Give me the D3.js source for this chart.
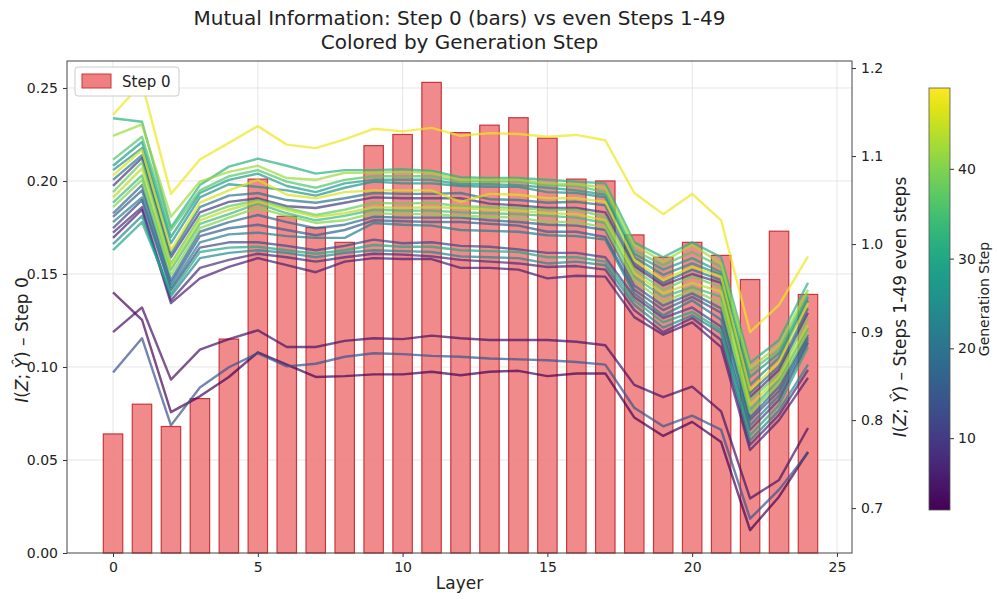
<!DOCTYPE html>
<html>
<head>
<meta charset="utf-8">
<script src="https://cdn.jsdelivr.net/npm/d3@7"></script>
<style>
  body { margin: 0; background: #fff; }
  text { font-family: "DejaVu Sans", sans-serif; fill: #222; }
</style>
</head>
<body>
<svg id="chart" width="997" height="599"></svg>
<script>
// layers and Step 0 bars (left axis)
const layers = [0, 1, 2, 3, 4, 5, 6, 7, 8, 9, 10, 11, 12, 13, 14, 15, 16, 17, 18, 19, 20, 21, 22, 23, 24];
const step0 = [0.064, 0.080, 0.068, 0.083, 0.115, 0.201, 0.181, 0.175, 0.167, 0.219, 0.225, 0.253, 0.226, 0.230, 0.234, 0.223, 0.201, 0.200, 0.171, 0.159, 0.167, 0.160, 0.147, 0.173, 0.139];

// even generation steps (right axis)
const step2  = [0.945, 0.914, 0.809, 0.827, 0.849, 0.877, 0.863, 0.849, 0.850, 0.852, 0.852, 0.855, 0.851, 0.855, 0.856, 0.850, 0.853, 0.853, 0.803, 0.782, 0.798, 0.775, 0.675, 0.713, 0.764];
const step4  = [0.900, 0.928, 0.846, 0.880, 0.892, 0.902, 0.883, 0.883, 0.890, 0.893, 0.892, 0.896, 0.893, 0.891, 0.891, 0.891, 0.889, 0.885, 0.840, 0.826, 0.838, 0.810, 0.711, 0.732, 0.791];
const step6  = [1.007, 1.039, 0.933, 0.961, 0.974, 0.984, 0.976, 0.968, 0.980, 0.984, 0.983, 0.983, 0.973, 0.973, 0.971, 0.961, 0.964, 0.963, 0.917, 0.897, 0.911, 0.883, 0.766, 0.800, 0.848];
const step8  = [1.013, 1.042, 0.936, 0.973, 0.982, 0.989, 0.985, 0.980, 0.985, 0.989, 0.988, 0.986, 0.982, 0.980, 0.978, 0.974, 0.975, 0.971, 0.925, 0.900, 0.916, 0.891, 0.772, 0.806, 0.857];
const step10 = [1.066, 1.098, 0.985, 1.036, 1.048, 1.052, 1.043, 1.041, 1.047, 1.053, 1.052, 1.052, 1.052, 1.046, 1.044, 1.041, 1.041, 1.036, 0.975, 0.953, 0.966, 0.956, 0.826, 0.857, 0.922];
const step12 = [1.018, 1.050, 0.948, 0.996, 1.002, 1.002, 0.998, 0.993, 0.998, 1.005, 1.001, 1.002, 0.998, 0.997, 0.994, 0.990, 0.990, 0.985, 0.940, 0.916, 0.928, 0.906, 0.789, 0.823, 0.888];
const step14 = [0.854, 0.893, 0.794, 0.837, 0.860, 0.876, 0.861, 0.864, 0.872, 0.876, 0.875, 0.873, 0.872, 0.870, 0.869, 0.868, 0.866, 0.863, 0.814, 0.793, 0.805, 0.789, 0.688, 0.721, 0.763];
const step16 = [1.031, 1.061, 0.955, 1.009, 1.018, 1.022, 1.016, 1.010, 1.016, 1.027, 1.026, 1.025, 1.025, 1.023, 1.021, 1.014, 1.014, 1.008, 0.948, 0.925, 0.940, 0.922, 0.800, 0.833, 0.894];
const step18 = [1.035, 1.067, 0.959, 1.014, 1.025, 1.033, 1.025, 1.018, 1.022, 1.031, 1.030, 1.030, 1.030, 1.027, 1.025, 1.022, 1.021, 1.016, 0.953, 0.930, 0.944, 0.927, 0.803, 0.838, 0.897];
const step20 = [1.073, 1.101, 0.989, 1.042, 1.055, 1.058, 1.050, 1.047, 1.052, 1.058, 1.057, 1.057, 1.058, 1.051, 1.050, 1.047, 1.048, 1.044, 0.978, 0.956, 0.971, 0.959, 0.831, 0.861, 0.927];
const step22 = [1.025, 1.053, 0.951, 1.002, 1.011, 1.013, 1.009, 1.007, 1.007, 1.024, 1.022, 1.021, 1.016, 1.015, 1.014, 1.010, 1.009, 1.005, 0.944, 0.919, 0.936, 0.914, 0.794, 0.828, 0.891];
const step24 = [1.000, 1.032, 0.941, 0.984, 0.990, 0.993, 0.990, 0.985, 0.990, 0.993, 0.992, 0.991, 0.986, 0.985, 0.984, 0.978, 0.980, 0.976, 0.931, 0.905, 0.919, 0.899, 0.777, 0.811, 0.863];
const step26 = [1.084, 1.109, 1.001, 1.053, 1.068, 1.065, 1.061, 1.055, 1.064, 1.071, 1.069, 1.069, 1.066, 1.065, 1.065, 1.059, 1.058, 1.053, 0.985, 0.965, 0.978, 0.965, 0.840, 0.871, 0.936];
const step28 = [1.089, 1.116, 1.008, 1.058, 1.073, 1.080, 1.066, 1.059, 1.069, 1.073, 1.073, 1.073, 1.068, 1.068, 1.067, 1.064, 1.061, 1.056, 0.989, 0.971, 0.984, 0.968, 0.849, 0.876, 0.940];
const step30 = [0.993, 1.025, 0.944, 0.991, 0.996, 0.997, 0.993, 0.989, 0.993, 0.999, 0.997, 0.997, 0.993, 0.992, 0.991, 0.985, 0.985, 0.980, 0.936, 0.911, 0.923, 0.902, 0.783, 0.817, 0.883];
const step32 = [1.143, 1.139, 1.019, 1.067, 1.088, 1.097, 1.089, 1.080, 1.084, 1.084, 1.085, 1.083, 1.076, 1.075, 1.075, 1.073, 1.071, 1.069, 1.002, 0.985, 1.002, 0.985, 0.865, 0.891, 0.956];
const step34 = [1.047, 1.078, 0.971, 1.023, 1.034, 1.046, 1.035, 1.027, 1.032, 1.039, 1.038, 1.038, 1.036, 1.035, 1.034, 1.032, 1.030, 1.024, 0.963, 0.940, 0.951, 0.940, 0.811, 0.846, 0.905];
const step36 = [1.096, 1.122, 1.016, 1.061, 1.077, 1.084, 1.071, 1.064, 1.073, 1.077, 1.077, 1.077, 1.071, 1.071, 1.071, 1.067, 1.066, 1.059, 0.993, 0.976, 0.991, 0.974, 0.855, 0.880, 0.944];
const step38 = [1.059, 1.093, 0.978, 1.031, 1.043, 1.050, 1.041, 1.033, 1.039, 1.047, 1.046, 1.047, 1.043, 1.042, 1.041, 1.039, 1.039, 1.031, 0.971, 0.948, 0.963, 0.951, 0.823, 0.852, 0.916];
const step40 = [1.042, 1.073, 0.965, 1.018, 1.030, 1.041, 1.032, 1.024, 1.027, 1.035, 1.034, 1.034, 1.032, 1.031, 1.030, 1.025, 1.025, 1.019, 0.959, 0.934, 0.948, 0.933, 0.808, 0.842, 0.900];
const step42 = [1.123, 1.136, 1.031, 1.071, 1.082, 1.089, 1.075, 1.073, 1.081, 1.081, 1.082, 1.081, 1.073, 1.073, 1.073, 1.069, 1.068, 1.064, 0.999, 0.980, 0.999, 0.978, 0.859, 0.885, 0.948];
const step44 = [1.053, 1.086, 0.974, 1.027, 1.039, 1.048, 1.039, 1.031, 1.035, 1.042, 1.041, 1.042, 1.041, 1.039, 1.038, 1.035, 1.034, 1.027, 0.967, 0.944, 0.956, 0.946, 0.817, 0.849, 0.908];
const step46 = [1.078, 1.107, 0.993, 1.047, 1.061, 1.073, 1.056, 1.052, 1.059, 1.061, 1.061, 1.061, 1.048, 1.057, 1.056, 1.052, 1.052, 1.048, 0.982, 0.959, 0.974, 0.963, 0.834, 0.866, 0.933];
const step48 = [1.147, 1.183, 1.057, 1.096, 1.115, 1.134, 1.113, 1.109, 1.119, 1.131, 1.128, 1.132, 1.123, 1.126, 1.125, 1.122, 1.124, 1.118, 1.058, 1.034, 1.057, 1.027, 0.900, 0.931, 0.986];

const genSteps = [2, 4, 6, 8, 10, 12, 14, 16, 18, 20, 22, 24, 26, 28, 30, 32, 34, 36, 38, 40, 42, 44, 46, 48];
const genValues = [step2, step4, step6, step8, step10, step12, step14, step16, step18, step20, step22, step24,
  step26, step28, step30, step32, step34, step36, step38, step40, step42, step44, step46, step48];

const xTicks = [0, 5, 10, 15, 20, 25];
const leftTicks = [0, 0.05, 0.10, 0.15, 0.20, 0.25];
const rightTicks = [0.7, 0.8, 0.9, 1.0, 1.1, 1.2];
const cbarTicks = [10, 20, 30, 40];

const svg = d3.select("#chart");
const L = 67, R = 852, T = 61, B = 553;

const x = d3.scaleLinear().domain([-1.59, 25.52]).range([L, R]);
const yL = d3.scaleLinear().domain([0, 0.2645]).range([B, T]);
const yR = d3.scaleLinear().domain([0.649, 1.208]).range([B, T]);
const color = d3.scaleSequential(d3.interpolateViridis).domain([2, 49]);

// grid
const grid = svg.append("g").attr("stroke", "#e6e6e6").attr("stroke-width", 1);
grid.selectAll("line.gx").data(xTicks).join("line")
  .attr("x1", d => x(d)).attr("x2", d => x(d)).attr("y1", T).attr("y2", B);
grid.selectAll("line.gy").data(leftTicks.slice(1)).join("line")
  .attr("x1", L).attr("x2", R).attr("y1", d => yL(d)).attr("y2", d => yL(d));

// bars
const barW = x(0.67) - x(0);
svg.append("g").selectAll("rect").data(layers).join("rect")
  .attr("x", d => x(d) - barW / 2)
  .attr("y", (d, i) => yL(step0[i]))
  .attr("width", barW)
  .attr("height", (d, i) => B - yL(step0[i]))
  .attr("fill", "#f08080")
  .attr("fill-opacity", 0.92)
  .attr("stroke", "#c8363c")
  .attr("stroke-width", 1.2);

// lines
const line = d3.line().x((d, i) => x(layers[i])).y(d => yR(d));
svg.append("g").selectAll("path").data(genValues).join("path")
  .attr("d", line)
  .attr("fill", "none")
  .attr("stroke", (d, i) => color(genSteps[i]))
  .attr("stroke-opacity", 0.7)
  .attr("stroke-width", 2.4)
  .attr("stroke-linejoin", "round");

// axes
const ax = svg.append("g").attr("transform", `translate(0,${B})`)
  .call(d3.axisBottom(x).tickValues(xTicks).tickSize(4).tickPadding(5));
const ayL = svg.append("g").attr("transform", `translate(${L},0)`)
  .call(d3.axisLeft(yL).tickValues(leftTicks).tickFormat(d3.format(".2f")).tickSize(4).tickPadding(5));
const ayR = svg.append("g").attr("transform", `translate(${R},0)`)
  .call(d3.axisRight(yR).tickValues(rightTicks).tickFormat(d3.format(".1f")).tickSize(4).tickPadding(5));
[ax, ayL, ayR].forEach(g => {
  g.select(".domain").remove();
  g.selectAll("line").attr("stroke", "#333");
  g.selectAll("text").attr("font-size", 14).attr("font-family", "DejaVu Sans").attr("fill", "#222");
});

// frame
svg.append("rect").attr("x", L).attr("y", T).attr("width", R - L).attr("height", B - T)
  .attr("fill", "none").attr("stroke", "#444").attr("stroke-width", 1);

// titles
svg.append("text").attr("x", (L + R) / 2).attr("y", 25).attr("text-anchor", "middle")
  .attr("font-size", 20).text("Mutual Information: Step 0 (bars) vs even Steps 1-49");
svg.append("text").attr("x", (L + R) / 2).attr("y", 49).attr("text-anchor", "middle")
  .attr("font-size", 20).text("Colored by Generation Step");
svg.append("text").attr("x", (L + R) / 2).attr("y", 589).attr("text-anchor", "middle")
  .attr("font-size", 17).text("Layer");

function miLabel(sel, suffix) {
  sel.append("tspan").attr("font-style", "italic").text("I");
  sel.append("tspan").text("(");
  sel.append("tspan").attr("font-style", "italic").text("Z");
  sel.append("tspan").text("; ");
  sel.append("tspan").attr("font-style", "italic").text("Ŷ");
  sel.append("tspan").text(") – " + suffix);
}
svg.append("text").attr("transform", `translate(28,340) rotate(-90)`)
  .attr("text-anchor", "middle").attr("font-size", 17).call(miLabel, "Step 0");
svg.append("text").attr("transform", `translate(906,${(T + B) / 2}) rotate(-90)`)
  .attr("text-anchor", "middle").attr("font-size", 17).call(miLabel, "Steps 1-49 even steps");

// legend
const lg = svg.append("g");
lg.append("rect").attr("x", 75).attr("y", 67).attr("width", 104).attr("height", 29).attr("rx", 3)
  .attr("fill", "#fff").attr("fill-opacity", 0.85).attr("stroke", "#ccc");
lg.append("rect").attr("x", 82).attr("y", 74).attr("width", 29).attr("height", 14)
  .attr("fill", "#f08080").attr("stroke", "#c8363c");
lg.append("text").attr("x", 122).attr("y", 87).attr("font-size", 15).text("Step 0");

// colorbar
const cbX = 929, cbW = 21, cbT = 88, cbB = 510;
const cy = d3.scaleLinear().domain([2, 49]).range([cbB, cbT]);
const grad = svg.append("defs").append("linearGradient").attr("id", "vir")
  .attr("x1", 0).attr("y1", 1).attr("x2", 0).attr("y2", 0);
grad.selectAll("stop").data(d3.range(0, 1.0001, 0.05)).join("stop")
  .attr("offset", d => d).attr("stop-color", d => d3.interpolateViridis(d));
svg.append("rect").attr("x", cbX).attr("y", cbT).attr("width", cbW).attr("height", cbB - cbT)
  .attr("fill", "url(#vir)").attr("stroke", "#555").attr("stroke-width", 0.8);
const cax = svg.append("g").attr("transform", `translate(${cbX + cbW},0)`)
  .call(d3.axisRight(cy).tickValues(cbarTicks).tickSize(4).tickPadding(4));
cax.select(".domain").remove();
cax.selectAll("line").attr("stroke", "#333");
cax.selectAll("text").attr("font-size", 14).attr("font-family", "DejaVu Sans").attr("fill", "#222");
svg.append("text").attr("transform", `translate(989,${(cbT + cbB) / 2}) rotate(-90)`)
  .attr("text-anchor", "middle").attr("font-size", 14).text("Generation Step");
</script>
</body>
</html>
